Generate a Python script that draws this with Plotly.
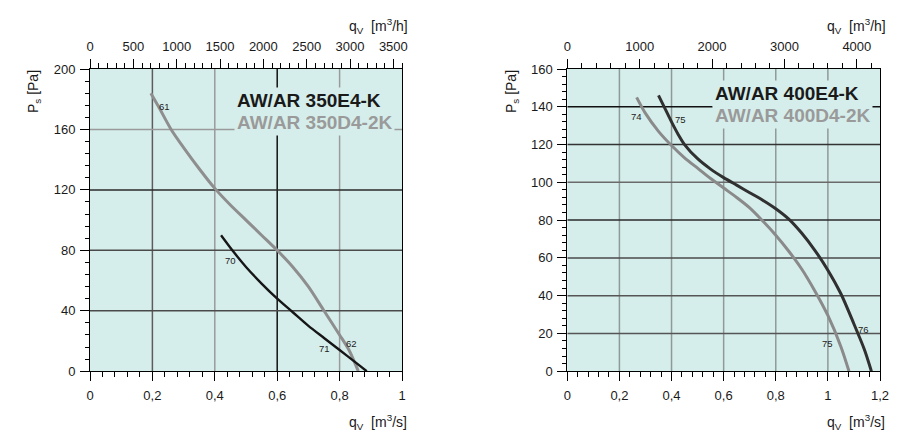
import plotly.graph_objects as go

# ---------------- data ----------------
# Left chart: AW/AR 350
q350_e4 = [0.42, 0.46, 0.50, 0.55, 0.60, 0.65, 0.70, 0.75, 0.80, 0.85, 0.887]
p350_e4 = [90, 79, 69, 58, 48, 39, 30, 22, 14, 6, 0]
q350_d4 = [0.195, 0.22, 0.26, 0.30, 0.35, 0.40, 0.45, 0.50, 0.55, 0.60, 0.65, 0.70, 0.75, 0.80, 0.83, 0.86]
p350_d4 = [184, 175, 160, 148, 134, 121, 110, 100, 90, 80, 69, 56, 40, 24, 14, 0]

# Right chart: AW/AR 400
q400_e4 = [0.35, 0.375, 0.40, 0.425, 0.45, 0.50, 0.55, 0.60, 0.65, 0.70, 0.75, 0.80, 0.85, 0.90, 0.95, 1.00, 1.05, 1.10, 1.14, 1.167]
p400_e4 = [146, 139, 132, 125.5, 120, 112.5, 107, 102.5, 98.5, 94.5, 90.5, 86, 80.5, 73, 64, 53.5, 41, 25, 11.5, 0]
q400_d4 = [0.266, 0.30, 0.35, 0.40, 0.45, 0.50, 0.55, 0.60, 0.65, 0.70, 0.74, 0.80, 0.85, 0.90, 0.95, 1.00, 1.05, 1.081]
p400_d4 = [145, 136.5, 127, 119.5, 113, 107.5, 102, 97, 92, 86.5, 81, 72, 63.5, 54, 42.5, 29.5, 13, 0]

# curve point labels (text, q, p)
lab350 = [("61", 0.239, 175), ("70", 0.449, 73), ("71", 0.753, 15), ("62", 0.839, 18.5)]
lab400 = [("74", 0.266, 134.7), ("75", 0.434, 133.3), ("75", 0.998, 14.8), ("76", 1.138, 22)]

# legend texts
leg350 = ["AW/AR 350E4-K", "AW/AR 350D4-2K"]
leg400 = ["AW/AR 400E4-K", "AW/AR 400D4-2K"]

# tick values / labels
xt_ms_l = [0, 0.2, 0.4, 0.6, 0.8, 1.0]
xt_ms_l_txt = ["0", "0,2", "0,4", "0,6", "0,8", "1"]
xt_ms_r = [0, 0.2, 0.4, 0.6, 0.8, 1.0, 1.2]
xt_ms_r_txt = ["0", "0,2", "0,4", "0,6", "0,8", "1", "1,2"]
xt_mh_l = [0, 500, 1000, 1500, 2000, 2500, 3000, 3500]
xt_mh_r = [0, 1000, 2000, 3000, 4000]
yt_l = [0, 40, 80, 120, 160, 200]
yt_r = [0, 20, 40, 60, 80, 100, 120, 140, 160]

# grid lines (value, colour)
vgrid_l = [(0.2, "#5c5c5c"), (0.4, "#9a9a9a"), (0.6, "#111111"), (0.8, "#9a9a9a")]
hgrid_l = [(40, "#4a4a4a"), (80, "#4a4a4a"), (120, "#2a2a2a"), (160, "#9a9a9a")]
vgrid_r = [(0.2, "#8e9a98"), (0.4, "#8e9a98"), (0.6, "#8e9a98"), (0.8, "#8e9a98"), (1.0, "#8e9a98")]
hgrid_r = [(20, "#555555"), (40, "#555555"), (60, "#4a4a4a"), (80, "#2a2a2a"), (100, "#6a6a6a"), (120, "#333333"), (140, "#111111")]

BG = "#d6eeeb"
FONT = "Liberation Sans, Arial, sans-serif"

# page body has an 8px margin: figure is placed at (8, 8)
OFF = 8
W, H = 913 - OFF, 445 - OFF

def px2x(px):
    return (px - OFF) / W

def py2y(py):
    return 1 - (py - OFF) / H

fig = go.Figure()

fig.add_trace(go.Scatter(x=q350_d4, y=p350_d4, mode="lines", line=dict(color="#8e8e8e", width=3, shape="spline", smoothing=0.8),
                         xaxis="x", yaxis="y", showlegend=False, hoverinfo="skip"))
fig.add_trace(go.Scatter(x=q350_e4, y=p350_e4, mode="lines", line=dict(color="#161616", width=2.4, shape="spline", smoothing=0.8),
                         xaxis="x", yaxis="y", showlegend=False, hoverinfo="skip"))
fig.add_trace(go.Scatter(x=q400_d4, y=p400_d4, mode="lines", line=dict(color="#8a8a8a", width=3, shape="spline", smoothing=0.8),
                         xaxis="x2", yaxis="y2", showlegend=False, hoverinfo="skip"))
fig.add_trace(go.Scatter(x=q400_e4, y=p400_e4, mode="lines", line=dict(color="#303030", width=3, shape="spline", smoothing=0.8),
                         xaxis="x2", yaxis="y2", showlegend=False, hoverinfo="skip"))
# empty traces to carry the top (m3/h) axes
fig.add_trace(go.Scatter(x=[], y=[], xaxis="x3", yaxis="y", showlegend=False, hoverinfo="skip"))
fig.add_trace(go.Scatter(x=[], y=[], xaxis="x4", yaxis="y2", showlegend=False, hoverinfo="skip"))

XL = [px2x(90), px2x(402)]
XR = [px2x(567.3), px2x(880)]
YD = [py2y(371.2), py2y(69)]

tickfont = dict(family=FONT, size=13, color="#1a1a1a")

def xax(domain, rng, tv, tt, minor_dt, anchor, side="bottom", overlay=None):
    d = dict(domain=domain, range=rng, tickmode="array", tickvals=tv, ticktext=tt,
             ticks="outside", ticklen=9, tickwidth=1, tickcolor="#000", showline=True,
             linecolor="#000", linewidth=1, showgrid=False, zeroline=False, anchor=anchor,
             side=side, tickfont=tickfont, ticklabelstandoff=3, automargin=False,
             minor=dict(dtick=minor_dt, tick0=0, ticks="outside", ticklen=5, tickwidth=1,
                        tickcolor="#000", showgrid=False), fixedrange=True)
    if overlay:
        d["overlaying"] = overlay
    return d

def yax(domain, rng, tv, minor_dt, anchor):
    return dict(domain=domain, range=rng, tickmode="array", tickvals=tv, ticktext=[str(v) for v in tv],
                ticks="outside", ticklen=9, tickwidth=1, tickcolor="#000", showline=True,
                linecolor="#000", linewidth=1, mirror=True, showgrid=False, zeroline=False,
                anchor=anchor, tickfont=tickfont, ticklabelstandoff=2, automargin=False,
                minor=dict(dtick=minor_dt, tick0=0, ticks="outside", ticklen=4, tickwidth=1,
                           tickcolor="#000", showgrid=False), fixedrange=True)

shapes = []
for v, c in vgrid_l:
    shapes.append(dict(type="line", xref="x", yref="y", x0=v, x1=v, y0=0, y1=200,
                       line=dict(color=c, width=1.5), layer="below"))
for v, c in hgrid_l:
    shapes.append(dict(type="line", xref="x", yref="y", x0=0, x1=1, y0=v, y1=v,
                       line=dict(color=c, width=1.5), layer="below"))
for v, c in vgrid_r:
    shapes.append(dict(type="line", xref="x2", yref="y2", x0=v, x1=v, y0=0, y1=160,
                       line=dict(color=c, width=1.5), layer="below"))
for v, c in hgrid_r:
    shapes.append(dict(type="line", xref="x2", yref="y2", x0=0, x1=1.2, y0=v, y1=v,
                       line=dict(color=c, width=1.5), layer="below"))

ann = []
def legend_line(px, py, text, color):
    return dict(xref="paper", yref="paper", x=px2x(px), y=py2y(py), xanchor="left", yanchor="middle",
                align="left", text="<b>" + text + "</b>", showarrow=False,
                font=dict(family=FONT, size=19, color=color), bgcolor=BG, borderpad=2)

ann.append(legend_line(234, 100, leg350[0], "#1a1a1a"))
ann.append(legend_line(234, 122.5, leg350[1], "#9a9a9a"))
ann.append(legend_line(712, 93.5, leg400[0], "#1a1a1a"))
ann.append(legend_line(712, 116, leg400[1], "#9a9a9a"))

labfont = dict(family=FONT, size=9.5, color="#222")
for t, q, p in lab350:
    ann.append(dict(xref="x", yref="y", x=q, y=p, text=t, showarrow=False, font=labfont))
for t, q, p in lab400:
    ann.append(dict(xref="x2", yref="y2", x=q, y=p, text=t, showarrow=False, font=labfont))

tfont = dict(family=FONT, size=14, color="#1a1a1a")
def pap(px, py, text, angle=0):
    return dict(xref="paper", yref="paper", x=px2x(px), y=py2y(py), text=text, showarrow=False,
                font=tfont, textangle=angle, xanchor="center", yanchor="middle")

ann.append(pap(378, 26, "q<sub>V</sub>  [m<sup>3</sup>/h]"))
ann.append(pap(856, 26, "q<sub>V</sub>  [m<sup>3</sup>/h]"))
ann.append(pap(378, 422, "q<sub>V</sub>  [m<sup>3</sup>/s]"))
ann.append(pap(856, 422, "q<sub>V</sub>  [m<sup>3</sup>/s]"))
ann.append(pap(34, 92, "P<sub>s</sub> [Pa]", -90))
ann.append(pap(512, 92, "P<sub>s</sub> [Pa]", -90))

fig.update_layout(
    width=W, height=H, autosize=False,
    margin=dict(l=0, r=0, t=0, b=0, autoexpand=False),
    paper_bgcolor="white", plot_bgcolor=BG,
    font=dict(family=FONT),
    xaxis=xax(XL, [0, 1], xt_ms_l, xt_ms_l_txt, 0.04, "y"),
    xaxis2=xax(XR, [0, 1.2], xt_ms_r, xt_ms_r_txt, 0.04, "y2"),
    xaxis3=xax(XL, [0, 3600], xt_mh_l, [str(v) for v in xt_mh_l], 100, "y", side="top", overlay="x"),
    xaxis4=xax(XR, [0, 4320], xt_mh_r, [str(v) for v in xt_mh_r], 200, "y2", side="top", overlay="x2"),
    yaxis=yax(YD, [0, 200], yt_l, 8, "x"),
    yaxis2=yax(YD, [0, 160], yt_r, 4, "x2"),
    shapes=shapes, annotations=ann,
)

fig.write_html("out.html")
